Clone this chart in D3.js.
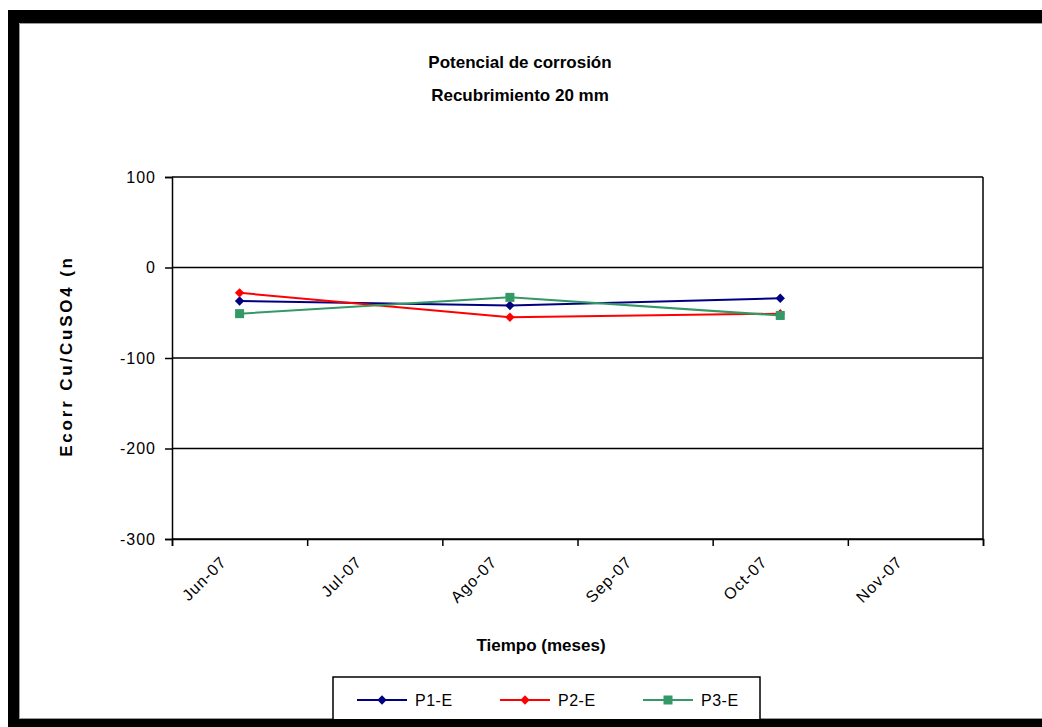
<!DOCTYPE html>
<html>
<head>
<meta charset="utf-8">
<script src="https://cdn.jsdelivr.net/npm/d3@7"></script>
<style>
  body { margin: 0; background: #fff; }
  svg { display: block; font-family: Arial, "Liberation Sans", sans-serif; }
</style>
</head>
<body>
<svg width="1042" height="727"></svg>
<script>
// meses del eje X (categorías)
var categories = ["Jun-07", "Jul-07", "Ago-07", "Sep-07", "Oct-07", "Nov-07"];
var p1 = [-37, null, -42, null, -34, null];
var p2 = [-28, null, -55, null, -51, null];
var p3 = [-51, null, -33, null, -53, null];
var yTicks = [-300, -200, -100, 0, 100];

var series = [
  { name: "P1-E", values: p1, color: "#000080", shape: "diamond" },
  { name: "P2-E", values: p2, color: "#ff0000", shape: "diamond" },
  { name: "P3-E", values: p3, color: "#339966", shape: "square" }
];

var svg = d3.select("svg");

// marco negro del gráfico
var frame = svg.append("g");
frame.append("rect").attr("x", 8).attr("y", 10).attr("width", 1034).attr("height", 13).attr("fill", "#000");
frame.append("rect").attr("x", 8).attr("y", 10).attr("width", 11).attr("height", 717).attr("fill", "#000");
frame.append("path").attr("d", "M19.5,727V23.5H1042M19.5,718.5H1042")
  .attr("fill", "none").attr("stroke", "#999").attr("stroke-width", 1);

var plotLeft = 172, plotRight = 983, plotTop = 177, plotBottom = 539;

var x = d3.scaleBand().domain(categories).range([plotLeft, plotRight]);
var xb = d3.scaleLinear().domain([0, categories.length]).range([plotLeft, plotRight]);
var y = d3.scaleLinear().domain([-300, 100]).range([plotBottom, plotTop]);

// títulos
svg.append("text").attr("x", 520).attr("y", 68).attr("text-anchor", "middle")
  .attr("font-size", 17).attr("font-weight", "bold").text("Potencial de corrosión");
svg.append("text").attr("x", 520).attr("y", 101).attr("text-anchor", "middle")
  .attr("font-size", 17).attr("font-weight", "bold").text("Recubrimiento 20 mm");

// líneas de división horizontales
svg.append("g")
  .selectAll("line").data(yTicks).join("line")
  .attr("x1", plotLeft).attr("x2", plotRight)
  .attr("y1", function(d) { return y(d); }).attr("y2", function(d) { return y(d); })
  .attr("stroke", "#000").attr("stroke-width", 1.5);

// borde derecho del área de trazado
svg.append("line").attr("x1", plotRight).attr("x2", plotRight).attr("y1", plotTop).attr("y2", plotBottom)
  .attr("stroke", "#000").attr("stroke-width", 1.5);

// eje Y (con guion normal, como Excel)
var gy = svg.append("g").attr("transform", "translate(" + plotLeft + ",0)")
  .call(d3.axisLeft(y).tickValues(yTicks).tickSize(7).tickPadding(9)
    .tickFormat(function(d) { return String(d); }));
gy.selectAll("line, path").attr("stroke", "#000").attr("stroke-width", 1.5);
gy.selectAll("text").attr("font-size", 16).attr("font-family", "Arial, 'Liberation Sans', sans-serif")
  .attr("fill", "#000").attr("letter-spacing", 1);

// eje X: marcas en los límites de cada categoría
var gx = svg.append("g").attr("transform", "translate(0," + plotBottom + ")")
  .call(d3.axisBottom(xb).tickValues(d3.range(categories.length + 1)).tickFormat("").tickSize(7));
gx.selectAll("line, path").attr("stroke", "#000").attr("stroke-width", 1.5);

// etiquetas del eje X giradas
svg.append("g").selectAll("text").data(categories).join("text")
  .attr("transform", function(d) {
    return "translate(" + (x(d) + x.bandwidth() / 2 - 12) + "," + (plotBottom + 24) + ") rotate(-45)";
  })
  .attr("text-anchor", "end").attr("font-size", 16).attr("letter-spacing", 1)
  .text(function(d) { return d; });

// títulos de los ejes
svg.append("text").attr("transform", "translate(72,356) rotate(-90)")
  .attr("text-anchor", "middle").attr("font-size", 17).attr("font-weight", "bold")
  .attr("letter-spacing", 2.8).text("Ecorr Cu/CuSO4 (n");
svg.append("text").attr("x", 541).attr("y", 651).attr("text-anchor", "middle")
  .attr("font-size", 17).attr("font-weight", "bold").text("Tiempo (meses)");

// series
var line = d3.line()
  .x(function(d) { return x(d.c) + x.bandwidth() / 2; })
  .y(function(d) { return y(d.v); });

function symbolPath(shape) {
  return shape === "square"
    ? d3.symbol().type(d3.symbolSquare).size(81)()
    : d3.symbol().type(d3.symbolDiamond2).size(56)();
}

series.forEach(function(s) {
  var pts = categories.map(function(c, i) { return { c: c, v: s.values[i] }; });
  // los huecos se unen con línea, como en la gráfica original
  var valid = pts.filter(function(d) { return d.v !== null; });
  var g = svg.append("g");
  g.append("path").datum(valid)
    .attr("fill", "none").attr("stroke", s.color).attr("stroke-width", 2)
    .attr("d", line);
  g.selectAll("path.m").data(valid).join("path").attr("class", "m")
    .attr("transform", function(d) {
      return "translate(" + (x(d.c) + x.bandwidth() / 2) + "," + y(d.v) + ")";
    })
    .attr("d", symbolPath(s.shape)).attr("fill", s.color);
});

// leyenda
var legend = svg.append("g");
legend.append("rect").attr("x", 333).attr("y", 677).attr("width", 427).attr("height", 60)
  .attr("fill", "#fff").attr("stroke", "#000").attr("stroke-width", 1.5);
var legendX = [357, 500, 643];
series.forEach(function(s, i) {
  var lx = legendX[i], ly = 700;
  legend.append("line").attr("x1", lx).attr("x2", lx + 50).attr("y1", ly).attr("y2", ly)
    .attr("stroke", s.color).attr("stroke-width", 2);
  legend.append("path").attr("transform", "translate(" + (lx + 25) + "," + ly + ")")
    .attr("d", symbolPath(s.shape)).attr("fill", s.color);
  legend.append("text").attr("x", lx + 58).attr("y", ly + 6).attr("font-size", 16)
    .attr("letter-spacing", 0.5).text(s.name);
});
// borde inferior del marco, por encima de la leyenda
svg.append("rect").attr("x", 8).attr("y", 719).attr("width", 1034).attr("height", 8).attr("fill", "#000");
</script>
</body>
</html>
